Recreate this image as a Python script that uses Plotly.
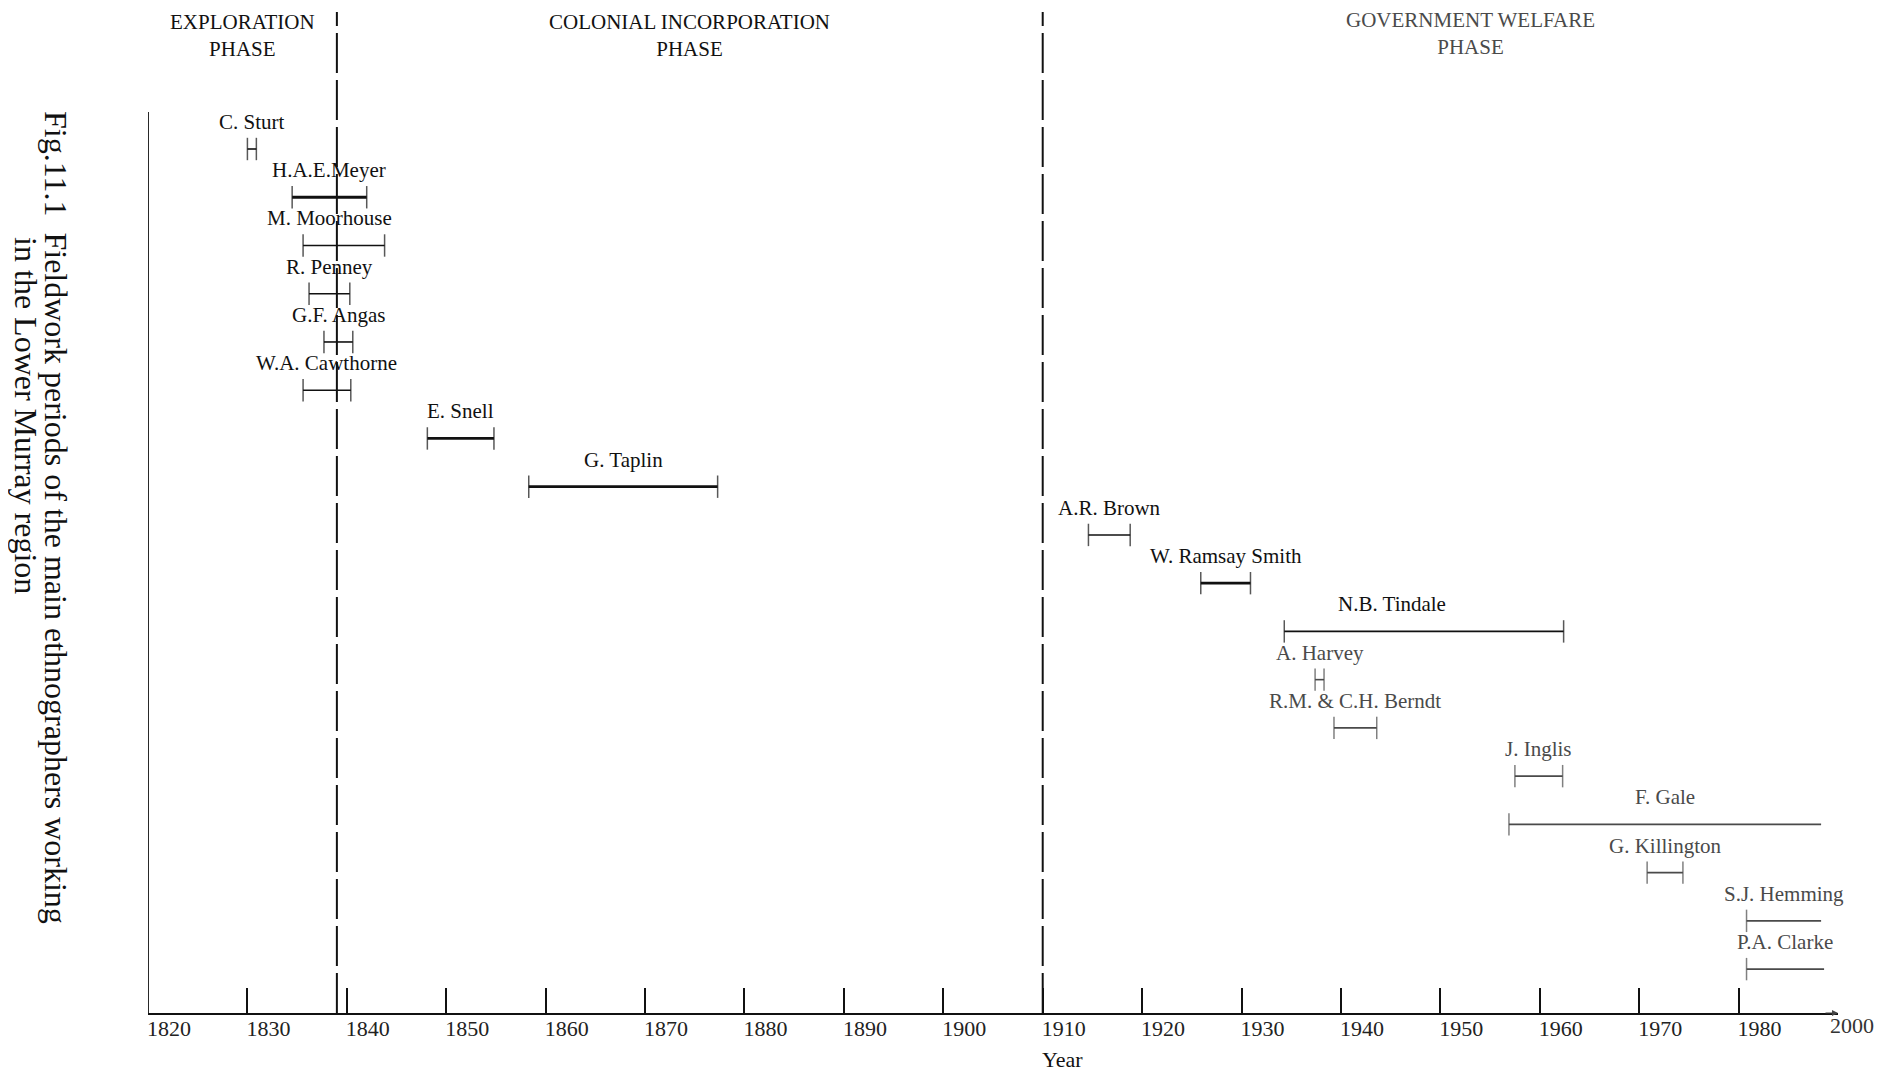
import plotly.graph_objects as go

# ── data ─────────────────────────────────────────────────────────────────────
names = [
    "C. Sturt", "H.A.E.Meyer", "M. Moorhouse", "R. Penney", "G.F. Angas",
    "W.A. Cawthorne", "E. Snell", "G. Taplin", "A.R. Brown", "W. Ramsay Smith",
    "N.B. Tindale", "A. Harvey", "R.M. & C.H. Berndt", "J. Inglis", "F. Gale",
    "G. Killington", "S.J. Hemming", "P.A. Clarke",
]
start_year = [
    1830.0, 1834.5, 1835.6, 1836.2, 1837.7, 1835.6, 1848.1, 1858.3, 1914.6,
    1925.9, 1934.3, 1937.4, 1939.3, 1957.5, 1956.9, 1970.8, 1980.8, 1980.8,
]
end_year = [
    1830.9, 1842.0, 1843.8, 1840.3, 1840.6, 1840.4, 1854.8, 1877.3, 1918.8,
    1930.9, 1962.4, 1938.3, 1943.6, 1962.3, 1988.3, 1974.4, 1988.3, 1988.6,
]
ongoing = ["F. Gale", "S.J. Hemming", "P.A. Clarke"]

phase_names = ["EXPLORATION<br>PHASE", "COLONIAL INCORPORATION<br>PHASE",
               "GOVERNMENT WELFARE<br>PHASE"]
phase_edges = [1820, 1839, 1910, 1996]

tick_vals = [1820, 1830, 1840, 1850, 1860, 1870, 1880, 1890, 1900, 1910,
             1920, 1930, 1940, 1950, 1960, 1970, 1980]
tick_text = ["1820", "1830", "1840", "1850", "1860", "1870", "1880", "1890",
             "1900", "1910", "1920", "1930", "1940", "1950", "1960", "1970",
             "1980"]
last_tick_val = 1990
last_tick_text = "2000"

# ── style ────────────────────────────────────────────────────────────────────
FONT = "Liberation Serif"
INK = "#111111"
GREY = "#4a4a4a"
thick = {"H.A.E.Meyer", "E. Snell", "G. Taplin", "W. Ramsay Smith"}
grey = {"A. Harvey", "R.M. & C.H. Berndt", "J. Inglis", "F. Gale",
        "G. Killington", "S.J. Hemming", "P.A. Clarke"}
label_shift = {"N.B. Tindale": -32, "M. Moorhouse": -14}

fig = go.Figure()

for i, name in enumerate(names):
    col = GREY if name in grey else INK
    lw = 2.8 if name in thick else 1.6
    caps = [16, 0] if name in ongoing else [16, 16]
    fig.add_trace(go.Scatter(
        x=[start_year[i], end_year[i]],
        y=[i, i],
        mode="lines+markers",
        line=dict(color=col, width=lw),
        marker=dict(symbol="line-ns-open", size=caps, color=col,
                    line=dict(color=col, width=1.5)),
        showlegend=False,
        hoverinfo="skip",
    ))
    fig.add_annotation(
        x=(start_year[i] + end_year[i]) / 2, y=i,
        text=name, showarrow=False,
        yshift=27, xshift=label_shift.get(name, 0),
        font=dict(family=FONT, size=21, color=col),
    )

# phase boundaries
for b in phase_edges[1:-1]:
    fig.add_shape(type="line", xref="x", yref="paper",
                  x0=b, x1=b, y0=0, y1=1,
                  line=dict(color=INK, width=2, dash="40px,7px"))

# phase headings
for k, txt in enumerate(phase_names):
    fig.add_annotation(
        x=(phase_edges[k] + phase_edges[k + 1]) / 2, xref="x",
        y=1, yref="paper", yanchor="top", yshift=6 if k == 2 else 4,
        text=txt, showarrow=False, align="center",
        font=dict(family=FONT, size=21, color=GREY if k == 2 else INK),
    )

# left axis line (starts below the headings)
fig.add_shape(type="line", xref="x", yref="paper",
              x0=tick_vals[0], x1=tick_vals[0], y0=0, y1=0.9,
              line=dict(color=INK, width=1.8))

# last tick label and arrow head on the time axis
fig.add_annotation(x=last_tick_val, xref="x", y=0, yref="paper",
                   xanchor="left", yanchor="top", yshift=2, xshift=-10,
                   text=last_tick_text, showarrow=False,
                   font=dict(family=FONT, size=22, color="#333333"))
fig.add_annotation(x=last_tick_val, xref="x", y=0, yref="paper",
                   ax=-14, ay=0, text="", showarrow=True,
                   arrowhead=2, arrowsize=1, arrowwidth=1.2,
                   arrowcolor="#444444")

fig.add_annotation(x=1910, xref="x", y=0, yref="paper",
                   xanchor="left", yanchor="top", xshift=-3, yshift=-32,
                   text="Year", showarrow=False,
                   font=dict(family=FONT, size=22, color=INK))

# figure caption, rotated
fig.add_annotation(x=-0.0544, xref="paper", y=0.4955, yref="paper",
                   xanchor="center", yanchor="middle",
                   text="Fig.11.1  Fieldwork periods of the main ethnographers working",
                   textangle=90, showarrow=False,
                   font=dict(family=FONT, size=32, color=INK))
fig.add_annotation(x=-0.0726, xref="paper", y=0.597, yref="paper",
                   xanchor="center", yanchor="middle",
                   text="in the Lower Murray region",
                   textangle=90, showarrow=False,
                   font=dict(family=FONT, size=32, color=INK))

# the page body adds an 8px margin, so the figure is 8px smaller
fig.update_layout(
    width=1877, height=1064,
    margin=dict(l=140, r=47, t=4, b=59),
    paper_bgcolor="white", plot_bgcolor="white",
    font=dict(family=FONT, color=INK),
    xaxis=dict(
        range=[1820, 1990],
        showgrid=False, zeroline=False,
        showline=True, linecolor=INK, linewidth=1.6,
        ticks="inside", ticklen=25, tickwidth=1.5, tickcolor=INK,
        tickvals=tick_vals, ticktext=tick_text,
        ticklabelshift=21, ticklabelstandoff=-5,
        tickfont=dict(family=FONT, size=22, color="#222222"),
    ),
    yaxis=dict(
        range=[17.91, -2.84],
        visible=False,
    ),
)

fig.write_html("out.html")
